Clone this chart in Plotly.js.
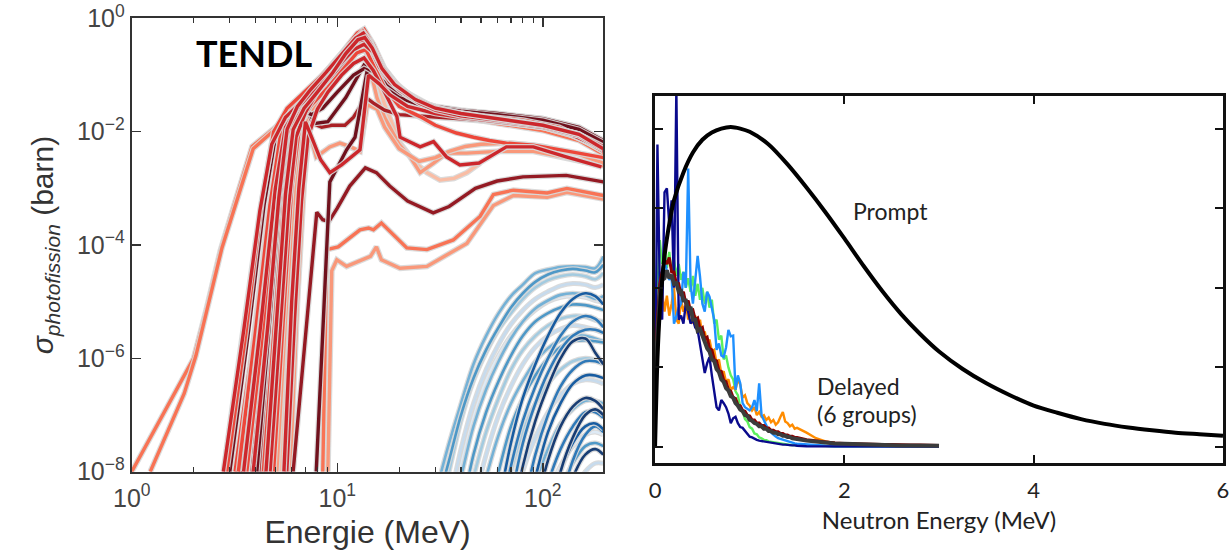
<!DOCTYPE html>
<html><head><meta charset="utf-8">
<script src="https://cdn.plot.ly/plotly-3.0.1.min.js"></script>
<style>html,body{margin:0;padding:0;background:#fff;}#chart{width:1229px;height:550px;}</style>
</head><body><div id="chart"></div>
<script>
// ---------- LEFT: TENDL photofission cross sections (E in MeV, sigma in barn) ----------
const redE01 = [1.0, 1.5, 2.0, 2.3, 2.7, 3.3, 3.85, 5.0, 6.0, 8.0, 10, 12, 13, 14, 16, 20, 25, 30, 40, 60, 100, 150, 197];
const redS01 = [1e-8, 1.5e-7, 1e-6, 7e-6, 8e-5, 9e-4, 5.5e-3, 1.2e-2, 2.2e-2, 7e-2, 0.17, 0.38, 0.5, 0.42, 0.17, 0.06, 0.033, 0.025, 0.019, 0.015, 0.011, 0.0075, 0.0042];
const redE02 = [1.23, 1.8, 2.05, 2.75, 3.9, 5.0, 6.0, 8.0, 10, 12, 13, 14, 16, 20, 25, 30, 40, 60, 100, 150, 197];
const redS02 = [1e-8, 2.4e-7, 1.1e-6, 9e-5, 5e-3, 1.1e-2, 2e-2, 6.5e-2, 0.16, 0.35, 0.48, 0.4, 0.16, 0.058, 0.032, 0.024, 0.018, 0.014, 0.0105, 0.007, 0.004];
const redE03 = [2.79, 3.5, 4.2, 4.8, 5.6, 6.5, 8, 10, 12, 13.5, 15, 17, 20, 25, 30, 40, 60, 100, 150, 197];
const redS03 = [1e-8, 3e-6, 4e-4, 6e-3, 1.8e-2, 3e-2, 6.5e-2, 0.15, 0.33, 0.52, 0.3, 0.12, 0.06, 0.034, 0.025, 0.02, 0.016, 0.012, 0.008, 0.0045];
const redE04 = [3.0, 3.7, 4.4, 5.0, 5.9, 6.9, 7.8, 9, 11, 13.5, 15, 17, 20, 25, 30, 40, 60, 100, 150, 197];
const redS04 = [1e-8, 3e-6, 5e-4, 8e-3, 2.4e-2, 3.2e-2, 1.4e-2, 1.5e-2, 4e-2, 0.15, 0.12, 0.07, 0.045, 0.032, 0.027, 0.023, 0.02, 0.016, 0.011, 0.0068];
const redE05 = [3.37, 4.1, 4.8, 5.4, 6.2, 7.0, 7.6, 8.4, 9.4, 10.9, 12, 13.8, 15, 17, 20, 25, 30, 40, 60, 100, 150, 197];
const redS05 = [1e-8, 3e-6, 5e-4, 6e-3, 2.2e-2, 2.8e-2, 1.4e-2, 1.2e-2, 1.3e-2, 1.3e-2, 1.8e-2, 4e-2, 3.2e-2, 2.4e-2, 2e-2, 1.9e-2, 1.8e-2, 1.7e-2, 1.5e-2, 1.2e-2, 8.5e-3, 5e-3];
const redE06 = [3.18, 3.9, 4.6, 5.3, 6.2, 7.5, 9, 11, 12.5, 13.5, 15, 17, 20, 25, 30, 40, 60, 100, 150, 197];
const redS06 = [1e-8, 2e-6, 3e-4, 7e-3, 2.3e-2, 5e-2, 0.12, 0.3, 0.55, 0.65, 0.35, 0.13, 0.062, 0.035, 0.026, 0.02, 0.016, 0.012, 0.008, 0.0045];
const redE07 = [3.63, 4.3, 5.0, 5.6, 6.4, 7.5, 9, 11, 12.5, 13.5, 15, 17, 20, 25, 30, 40, 60, 100, 150, 197];
const redS07 = [1e-8, 2e-6, 4e-4, 8e-3, 2.2e-2, 4.5e-2, 0.11, 0.27, 0.45, 0.5, 0.3, 0.12, 0.06, 0.033, 0.025, 0.02, 0.017, 0.013, 0.009, 0.0052];
const redE08 = [3.84, 4.5, 5.1, 5.6, 6.3, 7.2, 8.5, 10, 12, 13.5, 15, 17, 20, 25, 30, 40, 60, 100, 150, 197];
const redS08 = [1e-8, 3e-6, 6e-4, 6e-3, 1.8e-2, 3e-2, 6e-2, 0.12, 0.22, 0.28, 0.2, 0.1, 0.055, 0.033, 0.025, 0.021, 0.018, 0.014, 0.01, 0.006];
const redE09 = [4.06, 4.7, 5.3, 5.8, 6.5, 7.5, 8.5, 10, 12, 13.5, 15, 17, 20, 25, 30, 40, 60, 100, 150, 197];
const redS09 = [1e-8, 4e-6, 8e-4, 1e-2, 2.5e-2, 2e-2, 2.6e-2, 5e-2, 0.1, 0.13, 0.11, 0.075, 0.045, 0.033, 0.028, 0.024, 0.021, 0.017, 0.012, 0.007];
const redE10 = [4.37, 5.0, 5.5, 6.0, 6.8, 8, 9.5, 11, 12.5, 13.5, 14.5, 16, 18, 22, 28, 35, 50, 80, 120, 197];
const redS10 = [1e-8, 5e-6, 6e-4, 9e-3, 2.4e-2, 5.5e-2, 0.13, 0.28, 0.45, 0.48, 0.33, 0.15, 0.08, 0.045, 0.028, 0.022, 0.018, 0.015, 0.011, 0.0048];
const redE11 = [4.71, 5.3, 5.8, 6.3, 7.0, 8, 9.5, 11, 12.5, 13.5, 14.5, 16, 18, 22, 28, 35, 50, 80, 120, 197];
const redS11 = [1e-8, 4e-6, 5e-4, 8e-3, 2.2e-2, 5e-2, 0.12, 0.25, 0.4, 0.42, 0.3, 0.14, 0.075, 0.042, 0.027, 0.021, 0.018, 0.015, 0.011, 0.005];
const redE12 = [5.08, 5.6, 6.1, 6.6, 7.3, 8.2, 9.5, 11, 12.5, 13.5, 14.5, 15.6, 17, 20, 22.6, 25.3, 29.4, 34, 42.7, 60, 90, 130, 197];
const redS12 = [1e-8, 5e-6, 5e-4, 6e-3, 1.8e-2, 4e-2, 0.1, 0.22, 0.36, 0.38, 0.12, 4e-2, 1.8e-2, 6e-3, 3.6e-3, 1.9e-3, 2.8e-3, 4.2e-3, 4.2e-3, 4.5e-3, 4.5e-3, 3.5e-3, 2.5e-3];
const redE13 = [5.27, 5.8, 6.3, 6.8, 7.5, 8.5, 10, 11.5, 12.8, 13.8, 15, 17, 20.2, 24, 27.3, 31.6, 37, 42.7, 49.5];
const redS13 = [1e-8, 4e-6, 5e-4, 7e-3, 2e-2, 4.5e-2, 0.12, 0.25, 0.4, 0.42, 0.15, 0.03, 6.3e-3, 2.8e-3, 1.9e-3, 1.4e-3, 1.5e-3, 1.9e-3, 2.8e-3];
const redE14 = [5.68, 6.2, 6.7, 7.2, 8, 9, 10.5, 12, 13.5, 15, 17, 19.5, 20.2, 25.3, 29.4, 34, 39.5, 49, 66.5, 90, 130, 193];
const redS14 = [1e-8, 5e-6, 6e-4, 8e-3, 2.5e-2, 5e-2, 0.1, 0.16, 0.2, 0.12, 0.05, 1.85e-2, 8e-3, 5.4e-3, 6.7e-3, 3.6e-3, 2.6e-3, 2.8e-3, 5.4e-3, 5.4e-3, 3.6e-3, 2.4e-3];
const redE15 = [4.9, 5.5, 6.0, 6.6, 7.5, 9, 11, 12.5, 13.8, 15, 17, 20, 25.3, 30, 38, 46, 55, 66.5, 90, 130, 197];
const redS15 = [1e-8, 6e-6, 1e-3, 1.5e-2, 3e-2, 6e-2, 0.14, 0.25, 0.28, 0.15, 0.06, 0.028, 1.85e-2, 1.3e-2, 9.5e-3, 8e-3, 7e-3, 6.3e-3, 5.8e-3, 4.6e-3, 3.5e-3];
const redE16 = [4.2, 4.9, 5.6, 6.1, 7.0, 8.5, 10, 12, 13.5, 15, 17, 20, 25, 30, 40, 60, 100, 150, 197];
const redS16 = [1e-8, 3e-6, 1.2e-3, 1.5e-2, 3e-2, 5e-2, 0.09, 0.16, 0.2, 0.16, 0.09, 0.05, 0.032, 0.027, 0.023, 0.021, 0.017, 0.012, 0.0068];
const redE17 = [3.5, 4.3, 5.0, 5.6, 6.5, 8, 10, 12, 13.5, 15, 17, 20, 25, 30, 40, 60, 100, 150, 197];
const redS17 = [1e-8, 6e-6, 1e-3, 1.2e-2, 2.8e-2, 6e-2, 0.14, 0.28, 0.35, 0.25, 0.11, 0.055, 0.032, 0.024, 0.019, 0.016, 0.0125, 0.0085, 0.0048];
const redE18 = [6.1, 7.6, 7.95, 8.5, 9.1, 10, 11.5, 13.7, 15.5, 18, 22, 29.3, 35, 47, 60, 80, 130, 197];
const redS18 = [1e-8, 8e-5, 3.8e-4, 2.8e-4, 2.6e-4, 4.5e-4, 1.1e-3, 2.3e-3, 1.9e-3, 1.1e-3, 6e-4, 3.7e-4, 4.8e-4, 1e-3, 1.35e-3, 1.6e-3, 1.7e-3, 1.3e-3];
const redE19 = [7.9, 8.6, 9.2, 11.1, 12.2, 13.9, 15.5, 17, 20, 25, 30, 40, 60, 100, 150, 197];
const redS19 = [1e-8, 1e-5, 1.3e-3, 4.8e-3, 8e-3, 0.107, 0.085, 0.06, 0.04, 0.03, 0.026, 0.023, 0.02, 0.016, 0.011, 0.0065];
const redE20 = [8.5, 8.9, 10.1, 12.9, 14.2, 15.0, 16.4, 21.8, 27.3, 36.7, 49.5, 57.5, 72, 105, 131, 197];
const redS20 = [1e-8, 8.3e-5, 9.3e-5, 1.86e-4, 2e-4, 1.86e-4, 2.45e-4, 8.9e-5, 8.3e-5, 1.23e-4, 3.2e-4, 7.8e-4, 9.3e-4, 8.3e-4, 1e-3, 7.5e-4];
const redE21 = [9.0, 9.4, 9.95, 11.1, 14.5, 15.5, 16.4, 20.2, 27.3, 42.7, 57.5, 72, 105, 131, 197];
const redS21 = [1e-8, 3.5e-5, 5.5e-5, 4.2e-5, 6.3e-5, 9.3e-5, 5.5e-5, 3.9e-5, 4.2e-5, 1.07e-4, 5e-4, 7.5e-4, 7e-4, 8.5e-4, 6.5e-4];
const redE22 = [5.5, 6.0, 6.5, 7.0, 7.5, 8.3, 9.2, 10.5, 12.9, 14.2, 16, 18, 22, 30, 40, 60, 100, 150, 197];
const redS22 = [1e-8, 1e-5, 1e-3, 1.5e-2, 8e-3, 3.2e-3, 1.9e-3, 2.6e-3, 4.8e-3, 0.1, 0.07, 0.045, 0.028, 0.021, 0.018, 0.015, 0.012, 0.0085, 0.005];
const redE23 = [5.9, 6.4, 6.9, 7.3, 7.9, 9.2, 10.3, 11.5, 12.9, 14, 15.6, 17, 20, 25, 30, 35, 42, 50, 70, 100, 150, 197];
const redS23 = [1e-8, 1e-5, 1.2e-3, 1e-2, 3.6e-3, 5.4e-3, 6.3e-3, 5.5e-3, 4.5e-3, 3e-2, 2.5e-2, 1.2e-2, 5e-3, 3e-3, 3.5e-3, 4.5e-3, 5.5e-3, 6e-3, 6.3e-3, 5.5e-3, 4e-3, 2.8e-3];
const redE24 = [3.3, 4.0, 4.7, 5.3, 6.0, 7.0, 8.5, 10, 12, 13.3, 14.5, 16, 18, 22, 28, 35, 50, 80, 120, 197];
const redS24 = [1e-8, 3e-6, 5e-4, 9e-3, 2.6e-2, 5e-2, 0.1, 0.2, 0.42, 0.6, 0.4, 0.18, 0.09, 0.048, 0.03, 0.023, 0.019, 0.016, 0.012, 0.0052];
const redE25 = [3.9, 4.6, 5.2, 5.7, 6.4, 7.4, 8.8, 10.5, 12.3, 13.4, 14.6, 16.5, 19, 24, 30, 40, 60, 100, 150, 197];
const redS25 = [1e-8, 4e-6, 7e-4, 1.1e-2, 2.8e-2, 5.5e-2, 0.11, 0.23, 0.45, 0.55, 0.35, 0.14, 0.07, 0.038, 0.027, 0.021, 0.017, 0.013, 0.009, 0.0055];
const redE26 = [4.5, 5.1, 5.6, 6.1, 6.9, 8, 9.5, 11, 12.6, 13.6, 14.8, 16.5, 19, 24, 30, 40, 60, 100, 150, 197];
const redS26 = [1e-8, 5e-6, 8e-4, 1.1e-2, 2.6e-2, 5e-2, 0.11, 0.24, 0.42, 0.46, 0.3, 0.13, 0.068, 0.037, 0.026, 0.021, 0.017, 0.013, 0.009, 0.005];
const redE27 = [2.9, 3.6, 4.3, 4.9, 5.7, 6.7, 8.2, 10, 12, 13.2, 14.5, 16, 18, 22, 28, 35, 50, 80, 120, 197];
const redS27 = [1e-8, 3e-6, 6e-4, 1e-2, 2.6e-2, 4.5e-2, 0.09, 0.19, 0.4, 0.55, 0.38, 0.17, 0.085, 0.046, 0.029, 0.022, 0.018, 0.015, 0.011, 0.005];

// blue family: common energy grid, sigma per curve (null = not yet started)
const blueE = [30, 35, 40, 46, 53, 61, 70, 80, 92, 106, 122, 140, 161, 180, 197];
const blueS01 = [4e-9, 3.2e-8, 1.6e-7, 7.9e-7, 2.5e-6, 6.3e-6, 1.26e-5, 2e-5, 3.2e-5, 3.7e-5, 4.1e-5, 4.2e-5, 4.1e-5, 3.9e-5, 6.3e-5];
const blueS02 = [1e-9, 1e-8, 7.9e-8, 4e-7, 1.26e-6, 3.2e-6, 6.3e-6, 1.12e-5, 1.78e-5, 2.4e-5, 2.82e-5, 3.02e-5, 2.82e-5, 2.5e-5, 3.2e-5];
const blueS03 = [null, 2.5e-9, 2.5e-8, 1.6e-7, 6.3e-7, 1.78e-6, 4e-6, 7.1e-6, 1.12e-5, 1.51e-5, 1.91e-5, 2.09e-5, 2e-5, 1.78e-5, 2e-5];
const blueS04 = [null, 1e-9, 7.9e-9, 6.3e-8, 2.82e-7, 8.9e-7, 2.24e-6, 4.47e-6, 7.6e-6, 1.05e-5, 1.32e-5, 1.41e-5, 1.32e-5, 1.12e-5, 1.26e-5];
const blueS05 = [null, null, 1.6e-9, 2e-8, 1.12e-7, 4e-7, 1.12e-6, 2.5e-6, 4.47e-6, 6.3e-6, 7.9e-6, 8.9e-6, 8.7e-6, 7.9e-6, 7.1e-6];
const blueS06 = [null, null, 1e-9, 7.9e-9, 5e-8, 2e-7, 6.3e-7, 1.41e-6, 2.5e-6, 3.8e-6, 5e-6, 5.6e-6, 5.4e-6, 4.7e-6, 4.47e-6];
const blueS07 = [null, null, null, 2.5e-9, 2e-8, 1e-7, 3.2e-7, 7.9e-7, 1.58e-6, 2.5e-6, 3.3e-6, 3.8e-6, 3.55e-6, 3.2e-6, 2.82e-6];
const blueS08 = [null, null, null, 1e-9, 7.9e-9, 4.47e-8, 1.6e-7, 4e-7, 8.9e-7, 1.51e-6, 2.09e-6, 2.5e-6, 2.5e-6, 2.24e-6, 2e-6];
const blueS09 = [null, null, null, null, null, 2.5e-9, 3.2e-8, 2e-7, 7.9e-7, 2.5e-6, 6.3e-6, 1.12e-5, 1.41e-5, 1.26e-5, 8.9e-6];
const blueS10 = [null, null, null, null, null, null, 3.2e-9, 3.2e-8, 1.6e-7, 5.6e-7, 1.41e-6, 2.5e-6, 3.2e-6, 3.2e-6, 2.82e-6];
const blueS11 = [null, null, null, null, null, null, 1e-9, 1.26e-8, 7.9e-8, 3.2e-7, 1e-6, 2e-6, 2.24e-6, 1.26e-6, 7.9e-7];
const blueS12 = [null, null, null, null, 1e-9, 1e-8, 6.3e-8, 2e-7, 5e-7, 1e-6, 1.58e-6, 2e-6, 2.09e-6, 2e-6, 1.91e-6];
const blueS13 = [null, null, null, null, null, 1e-9, 1e-8, 5e-8, 1.6e-7, 3.55e-7, 6.3e-7, 8.9e-7, 1e-6, 9.5e-7, 8.9e-7];
const blueS14 = [null, null, null, null, null, null, null, 2e-9, 2e-8, 1e-7, 3.2e-7, 6.3e-7, 8.9e-7, 8.9e-7, 7.9e-7];
const blueS15 = [null, null, null, null, null, null, null, 1e-9, 7.9e-9, 5e-8, 1.6e-7, 3.55e-7, 5e-7, 5e-7, 4.47e-7];
const blueS16 = [null, null, null, null, null, null, 1e-9, 1e-8, 4e-8, 1.12e-7, 2.24e-7, 3.55e-7, 4.17e-7, 4e-7, 3.55e-7];
const blueS17 = [null, null, null, null, null, null, null, 1e-9, 6.3e-9, 2.5e-8, 7.1e-8, 1.26e-7, 1.78e-7, 1.78e-7, 1.6e-7];
const blueS18 = [null, null, null, null, null, null, null, null, 2e-9, 1.58e-8, 6.3e-8, 1.41e-7, 2e-7, 1.78e-7, 1.26e-7];
const blueS19 = [null, null, null, null, null, null, null, null, 1e-9, 6.3e-9, 2.5e-8, 6.3e-8, 1.12e-7, 1.12e-7, 8.9e-8];
const blueS20 = [null, null, null, null, null, null, null, null, 1e-9, 4e-9, 1.26e-8, 2.82e-8, 4.47e-8, 5e-8, 4.47e-8];
const blueS21 = [null, null, null, null, null, null, null, null, null, 1.6e-9, 1e-8, 3.2e-8, 6.3e-8, 7.1e-8, 5.6e-8];
const blueS22 = [null, null, null, null, null, null, null, null, null, 1e-9, 5e-9, 1.41e-8, 2.82e-8, 3.2e-8, 2.82e-8];
const blueS23 = [null, null, null, null, null, null, null, null, null, null, 1.6e-9, 7.9e-9, 2e-8, 2.5e-8, 2e-8];
const blueS24 = [null, null, null, null, null, null, null, null, null, null, 1e-9, 4e-9, 1e-8, 1.41e-8, 1.41e-8];
const blueS25 = [2e-9, 1.58e-8, 1e-7, 4.47e-7, 1.41e-6, 3.55e-6, 7.9e-6, 1.41e-5, 2.24e-5, 3.02e-5, 3.55e-5, 3.8e-5, 3.55e-5, 3.3e-5, 4.47e-5];
const blueS26 = [null, 1.26e-9, 1.26e-8, 8.9e-8, 4e-7, 1.12e-6, 2.5e-6, 4.47e-6, 7.1e-6, 1e-5, 1.2e-5, 1.26e-5, 1.2e-5, 1.05e-5, 1e-5];
const blueS27 = [null, null, null, null, null, 1e-9, 1.26e-8, 7.9e-8, 3.2e-7, 1e-6, 2.5e-6, 4.47e-6, 5.6e-6, 5e-6, 3.55e-6];
const blueS28 = [null, null, null, null, null, null, null, null, null, 1e-9, 1e-8, 4e-8, 1e-7, 1.26e-7, 1e-7];
const blueS29 = [null, null, null, null, null, null, null, null, null, null, 2.5e-9, 1.58e-8, 4.47e-8, 6.3e-8, 5e-8];

const leftXTickVals = [1, 10, 100];
const leftXTickText = ['10<sup>0</sup>', '10<sup>1</sup>', '10<sup>2</sup>'];
const leftXMinorVals = [2, 3, 4, 5, 6, 7, 8, 9, 20, 30, 40, 50, 60, 70, 80, 90];
const leftYTickVals = [1e-8, 1e-6, 1e-4, 1e-2, 1];
const leftYTickText = ['10<sup>−8</sup>', '10<sup>−6</sup>', '10<sup>−4</sup>', '10<sup>−2</sup>', '10<sup>0</sup>'];

// ---------- RIGHT: fission neutron spectra (energy MeV, arbitrary units) ----------
const promptE = [0, 0.025, 0.05, 0.1, 0.15, 0.2, 0.3, 0.4, 0.5, 0.6, 0.7, 0.8, 0.9, 1.0, 1.2, 1.4, 1.6, 1.8, 2.0, 2.2, 2.4, 2.6, 2.8, 3.0, 3.25, 3.5, 3.75, 4.0, 4.25, 4.5, 4.75, 5.0, 5.25, 5.5, 5.75, 6.0];
const promptY = [0, 1.1, 1.7, 2.4, 2.8, 3.1, 3.45, 3.7, 3.86, 3.95, 4.0, 4.02, 4.0, 3.96, 3.8, 3.55, 3.26, 2.95, 2.62, 2.28, 1.96, 1.67, 1.42, 1.2, 0.98, 0.8, 0.65, 0.52, 0.43, 0.35, 0.29, 0.245, 0.21, 0.18, 0.16, 0.14];

const delayedE = [0, 0.025, 0.05, 0.075, 0.1, 0.125, 0.15, 0.175, 0.2, 0.225, 0.25, 0.275, 0.3, 0.325, 0.35, 0.375, 0.4, 0.425, 0.45, 0.475, 0.5, 0.525, 0.55, 0.575, 0.6, 0.625, 0.65, 0.675, 0.7, 0.725, 0.75, 0.775, 0.8, 0.825, 0.85, 0.875, 0.9, 0.925, 0.95, 0.975, 1.0, 1.025, 1.05, 1.075, 1.1, 1.125, 1.15, 1.175, 1.2, 1.225, 1.25, 1.275, 1.3, 1.325, 1.35, 1.375, 1.4, 1.425, 1.45, 1.475, 1.5, 1.6, 1.7, 1.8, 1.9, 2.0, 2.1, 2.2, 2.3, 2.4, 2.5, 2.6, 2.7, 2.8, 2.9, 3.0];
const delayedGreen = [0.8, 2.0, 2.6, 2.3, 2.5, 2.25, 2.45, 2.2, 2.35, 2.15, 2.3, 2.1, 2.2, 2.0, 2.12, 1.95, 2.15, 1.9, 2.05, 1.85, 2.0, 1.8, 1.95, 1.75, 1.85, 1.55, 1.6, 1.35, 1.4, 1.1, 1.15, 1.0, 0.9, 0.85, 0.7, 0.65, 0.5, 0.45, 0.35, 0.32, 0.25, 0.23, 0.17, 0.16, 0.12, 0.11, 0.09, 0.085, 0.07, 0.065, 0.055, 0.05, 0.045, 0.04, 0.035, 0.03, 0.03, 0.025, 0.025, 0.02, 0.02, 0.02, 0.015, 0.015, 0.01, 0.01, 0.01, 0.01, 0.01, 0.01, 0.01, 0.01, 0.01, 0.01, 0.01, 0.01];
const delayedOrange = [0.5, 1.2, 1.7, 1.95, 1.7, 1.9, 1.65, 1.8, 2.0, 1.6, 1.55, 1.85, 1.7, 1.8, 1.6, 1.75, 1.55, 1.65, 1.45, 1.6, 1.4, 1.45, 1.3, 1.35, 1.2, 1.22, 1.05, 1.1, 0.92, 0.95, 0.82, 0.85, 0.72, 0.75, 0.72, 0.85, 0.78, 0.62, 0.65, 0.55, 0.52, 0.46, 0.5, 0.4, 0.44, 0.38, 0.4, 0.34, 0.37, 0.31, 0.34, 0.28, 0.31, 0.38, 0.44, 0.32, 0.3, 0.26, 0.28, 0.23, 0.24, 0.18, 0.11, 0.07, 0.05, 0.04, 0.035, 0.03, 0.025, 0.025, 0.02, 0.02, 0.02, 0.02, 0.02, 0.02];
const delayedLightBlue = [0.8, 1.5, 2.2, 2.0, 2.4, 2.2, 2.1, 2.14, 1.55, 1.64, 1.75, 1.8, 2.2, 2.0, 3.5, 2.05, 1.8, 2.1, 2.4, 2.14, 1.8, 1.7, 1.95, 1.89, 1.72, 1.6, 1.22, 1.3, 1.15, 1.13, 1.25, 1.47, 1.39, 1.4, 0.72, 0.9, 0.8, 0.55, 0.5, 0.48, 0.46, 0.5, 0.59, 0.45, 0.8, 0.4, 0.34, 0.28, 0.21, 0.18, 0.15, 0.13, 0.11, 0.1, 0.09, 0.08, 0.07, 0.06, 0.05, 0.045, 0.04, 0.03, 0.02, 0.015, 0.01, 0.01, 0.01, 0.01, 0.01, 0.01, 0.01, 0.01, 0.01, 0.01, 0.01, 0.01];
const delayedNavy = [0.3, 3.8, 2.0, 1.6, 3.2, 3.25, 2.8, 3.1, 2.0, 4.5, 1.6, 1.65, 1.55, 1.8, 1.7, 1.55, 1.6, 1.5, 1.47, 1.3, 1.1, 0.93, 1.05, 1.13, 0.9, 0.72, 0.5, 0.46, 0.59, 0.55, 0.5, 0.42, 0.3, 0.36, 0.38, 0.3, 0.25, 0.24, 0.2, 0.16, 0.13, 0.12, 0.1, 0.09, 0.08, 0.075, 0.07, 0.06, 0.055, 0.05, 0.045, 0.04, 0.035, 0.03, 0.03, 0.03, 0.025, 0.02, 0.02, 0.02, 0.015, 0.01, 0.01, 0.005, 0.005, 0.005, 0.005, 0.005, 0.005, 0.005, 0.005, 0.005, 0.005, 0.005, 0.005, 0.005];
const delayedDarkRed = [0.9, 1.6, 2.05, 2.2, 2.35, 2.3, 2.38, 2.2, 2.2, 2.05, 2.05, 1.9, 1.95, 1.8, 1.84, 1.7, 1.72, 1.6, 1.62, 1.48, 1.5, 1.36, 1.38, 1.24, 1.22, 1.1, 1.08, 0.96, 0.95, 0.84, 0.82, 0.72, 0.7, 0.62, 0.61, 0.53, 0.52, 0.46, 0.45, 0.4, 0.39, 0.34, 0.34, 0.3, 0.3, 0.27, 0.27, 0.24, 0.24, 0.21, 0.21, 0.19, 0.19, 0.17, 0.17, 0.15, 0.15, 0.135, 0.135, 0.12, 0.12, 0.09, 0.075, 0.06, 0.05, 0.045, 0.04, 0.035, 0.035, 0.03, 0.03, 0.025, 0.025, 0.025, 0.02, 0.02];
const delayedGray = [0.9, 1.5, 1.9, 2.1, 2.12, 2.22, 2.12, 2.16, 2.05, 2.06, 1.95, 1.96, 1.84, 1.84, 1.72, 1.76, 1.6, 1.6, 1.46, 1.48, 1.38, 1.32, 1.24, 1.2, 1.1, 1.08, 0.98, 0.94, 0.85, 0.82, 0.74, 0.71, 0.64, 0.62, 0.55, 0.52, 0.47, 0.45, 0.4, 0.39, 0.34, 0.33, 0.3, 0.29, 0.26, 0.26, 0.23, 0.23, 0.2, 0.2, 0.18, 0.18, 0.16, 0.16, 0.14, 0.14, 0.125, 0.125, 0.11, 0.11, 0.1, 0.08, 0.065, 0.05, 0.045, 0.04, 0.035, 0.03, 0.03, 0.025, 0.025, 0.02, 0.02, 0.02, 0.015, 0.015];
const rightXTickVals = [0, 2, 4, 6];
const rightYTickVals = [0, 1, 2, 3, 4];

// ---------- build traces ----------
const R = {c1:'#fcbba1', c2:'#fc9272', c3:'#fb6a4a', c4:'#ef3b2c', c5:'#cb181d', c6:'#a50f15', c7:'#67000d'};
const redLines = [
  [redE13, redS13, R.c1], [redE12, redS12, R.c2], [redE21, redS21, R.c2], [redE23, redS23, R.c2],
  [redE01, redS01, R.c3], [redE02, redS02, R.c3], [redE20, redS20, R.c3],
  [redE05, redS05, R.c6], [redE08, redS08, R.c6], [redE18, redS18, '#8e0a13'], [redE16, redS16, R.c6],
  [redE04, redS04, R.c7], [redE09, redS09, R.c7], [redE19, redS19, R.c7],
  [redE06, redS06, R.c4], [redE10, redS10, R.c4], [redE15, redS15, R.c4], [redE07, redS07, R.c4], [redE24, redS24, R.c4], [redE27, redS27, R.c4],
  [redE03, redS03, R.c5], [redE11, redS11, R.c5], [redE14, redS14, R.c5], [redE22, redS22, R.c5], [redE17, redS17, R.c5], [redE25, redS25, R.c5], [redE26, redS26, R.c5]
];
const blueLines = [
  [blueS03, '#c6dbef'], [blueS07, '#c6dbef'], [blueS16, '#c6dbef'], [blueS24, '#c6dbef'], [blueS20, '#deebf7'], [blueS26, '#deebf7'],
  [blueS02, '#9ecae1'], [blueS06, '#9ecae1'], [blueS13, '#9ecae1'],
  [blueS01, '#6baed6'], [blueS04, '#6baed6'], [blueS08, '#6baed6'], [blueS17, '#6baed6'],
  [blueS05, '#4292c6'], [blueS12, '#4292c6'], [blueS22, '#4292c6'], [blueS25, '#4292c6'],
  [blueS10, '#2171b5'], [blueS14, '#2171b5'], [blueS19, '#2171b5'], [blueS27, '#2171b5'], [blueS29, '#2171b5'],
  [blueS09, '#08519c'], [blueS15, '#08519c'], [blueS21, '#08519c'],
  [blueS11, '#08306b'], [blueS18, '#08306b'], [blueS23, '#08306b'], [blueS28, '#08306b']
];

const traces = [];
function addHaloLine(x, y, color, width, shape) {
  traces.push({x:x, y:y, xaxis:'x', yaxis:'y', type:'scatter', mode:'lines',
    line:{color:'rgba(215,215,215,0.9)', width:width + 2.4, shape:shape}, hoverinfo:'skip', showlegend:false});
  traces.push({x:x, y:y, xaxis:'x', yaxis:'y', type:'scatter', mode:'lines', opacity:0.92,
    line:{color:color, width:width, shape:shape}, showlegend:false});
}
blueLines.forEach(b => addHaloLine(blueE, b[0], b[1], 2.6, 'spline'));
redLines.forEach(r => addHaloLine(r[0], r[1], r[2], 3.4, 'linear'));

const delayedSets = [
  [delayedGreen, '#5cf05c', 2.4], [delayedOrange, '#ff8c00', 2.4], [delayedLightBlue, '#1e90ff', 2.4],
  [delayedNavy, '#0a0a8c', 2.4], [delayedDarkRed, '#8b0000', 3], [delayedGray, '#3c3c3c', 4]
];
delayedSets.forEach(d => traces.push({x:delayedE, y:d[0], xaxis:'x2', yaxis:'y2', type:'scatter', mode:'lines',
  line:{color:d[1], width:d[2]}, showlegend:false}));
traces.push({x:promptE, y:promptY, xaxis:'x2', yaxis:'y2', type:'scatter', mode:'lines',
  line:{color:'#000', width:4, shape:'spline', smoothing:0.8}, showlegend:false});

const leftFont = 'Liberation Sans, Arial, sans-serif';
const rightFont = 'Lato, Carlito, sans-serif';
const layout = {
  width:1229, height:550, margin:{l:0, r:0, t:0, b:0},
  paper_bgcolor:'#fff', plot_bgcolor:'#fff', showlegend:false,
  xaxis:{domain:[0.1072, 0.4909], anchor:'y', type:'log', range:[0, 2.2945],
    tickmode:'array', tickvals:leftXTickVals, ticktext:leftXTickText,
    ticks:'inside', ticklen:9, tickwidth:1.5, tickcolor:'#333',
    minor:{tickmode:'array', tickvals:leftXMinorVals, ticks:'inside', ticklen:5, tickwidth:1.2, tickcolor:'#333', showgrid:false},
    showline:true, linecolor:'#333', linewidth:2, mirror:'ticks', showgrid:false, zeroline:false,
    tickfont:{family:leftFont, size:25, color:'#444'}, ticklabelstandoff:3,
    title:{text:'Energie (MeV)', font:{family:leftFont, size:32, color:'#333'}, standoff:12}},
  yaxis:{domain:[0.1424, 0.9665], anchor:'x', type:'log', range:[-8, 0],
    tickmode:'array', tickvals:leftYTickVals, ticktext:leftYTickText,
    ticks:'inside', ticklen:9, tickwidth:1.5, tickcolor:'#333',
    showline:true, linecolor:'#333', linewidth:2, mirror:'ticks', showgrid:false, zeroline:false,
    tickfont:{family:leftFont, size:25, color:'#444'},
    title:{text:'<i>σ</i><sub><i>photofission</i></sub> (barn)', font:{family:leftFont, size:30, color:'#333'}, standoff:14}},
  xaxis2:{domain:[0.5330, 0.9951], anchor:'y2', range:[0, 6],
    tickmode:'array', tickvals:rightXTickVals, ticks:'inside', ticklen:8, tickwidth:2, tickcolor:'#111',
    showline:true, linecolor:'#111', linewidth:3, mirror:'ticks', showgrid:false, zeroline:false,
    tickfont:{family:rightFont, size:22, color:'#222'}, ticklabelstandoff:6, ticklabeloverflow:'allow',
    title:{text:'Neutron Energy (MeV)', font:{family:rightFont, size:24, color:'#222'}, standoff:10}},
  yaxis2:{domain:[0.1582, 0.8255], anchor:'x2', range:[-0.201, 4.41],
    tickmode:'array', tickvals:rightYTickVals, showticklabels:false, ticks:'inside', ticklen:8, tickwidth:2, tickcolor:'#111',
    showline:true, linecolor:'#111', linewidth:3, mirror:'ticks', showgrid:false, zeroline:false},
  annotations:[
    {xref:'paper', yref:'paper', x:0.2067, y:0.9036, xanchor:'center', yanchor:'middle', text:'<b>TENDL</b>', showarrow:false,
      font:{family:'Lato, Open Sans, sans-serif', size:36, color:'#000'}},
    {xref:'paper', yref:'paper', x:0.7242, y:0.6164, xanchor:'center', yanchor:'middle', text:'Prompt', showarrow:false,
      font:{family:rightFont, size:23, color:'#222'}},
    {xref:'paper', yref:'paper', x:0.6631, y:0.2982, xanchor:'left', yanchor:'middle', text:'Delayed', showarrow:false,
      font:{family:rightFont, size:23, color:'#222'}},
    {xref:'paper', yref:'paper', x:0.6631, y:0.2473, xanchor:'left', yanchor:'middle', text:'(6 groups)', showarrow:false,
      font:{family:rightFont, size:23, color:'#222'}}
  ]
};
Plotly.newPlot('chart', traces, layout, {staticPlot:true, displayModeBar:false});
</script></body></html>
